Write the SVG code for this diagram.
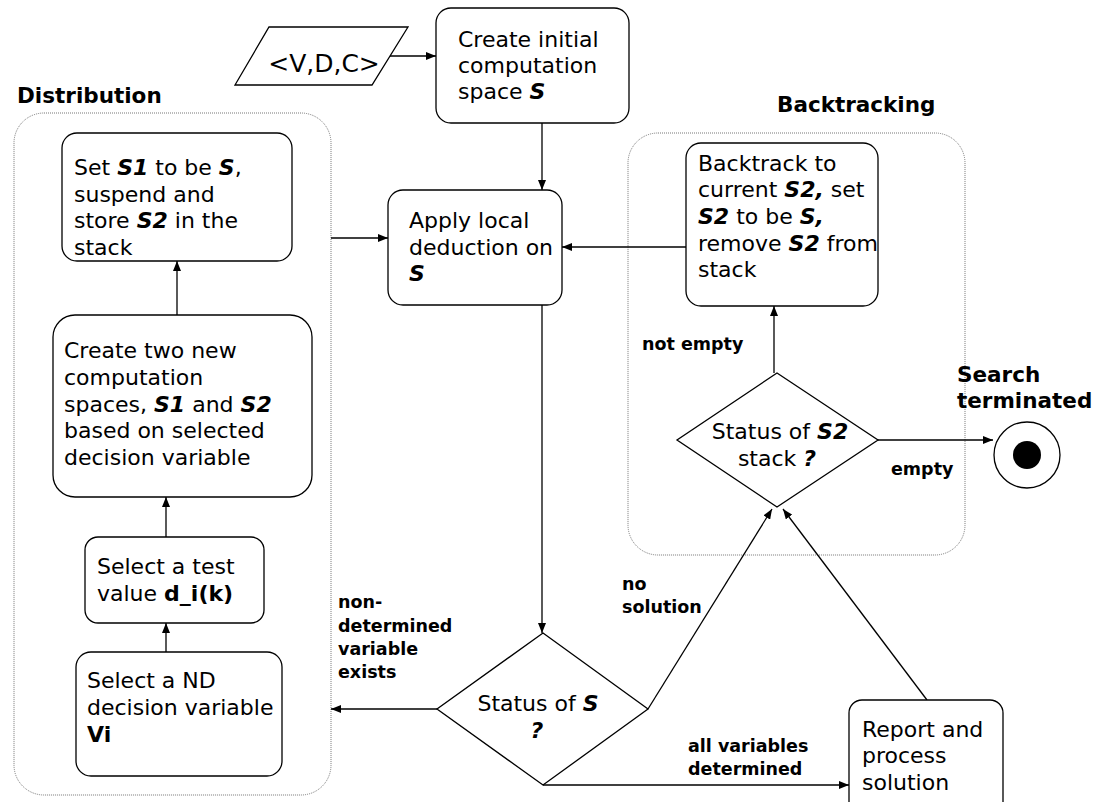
<svg xmlns="http://www.w3.org/2000/svg" width="1098" height="802" viewBox="0 0 1098 802">
  <style>
    .box { fill: #ffffff; stroke: #000000; stroke-width: 1.3; }
    .group { fill: none; stroke: #777777; stroke-width: 1; stroke-dasharray: 1 1; }
    .t { font-family: "DejaVu Sans", Verdana, sans-serif; font-size: 22px; fill: #000000; }
    .b { font-weight: bold; font-style: italic; }
    .bn { font-weight: bold; }
    .lbl { font-family: "DejaVu Sans", Verdana, sans-serif; font-size: 17.5px; font-weight: bold; fill: #000000; }
    .title { font-family: "DejaVu Sans", Verdana, sans-serif; font-size: 21.5px; font-weight: bold; fill: #000000; }
    .edge { fill: none; stroke: #000000; stroke-width: 1.3; }
  </style>
  <defs>
    <marker id="arrow" markerWidth="10" markerHeight="8" refX="10" refY="4" orient="auto" markerUnits="userSpaceOnUse">
      <path d="M0,0 L10,4 L0,8 Z" fill="#000000"/>
    </marker>
  </defs>

  <rect width="1098" height="802" fill="#ffffff"/>

  <!-- Swimlane-style groupings -->
  <g id="distribution">
    <rect class="group" x="14" y="113" width="317" height="682" rx="30"/>
    <text class="title" x="17" y="103">Distribution</text>
  </g>
  <g id="backtracking">
    <rect class="group" x="628" y="133" width="337" height="422" rx="30"/>
    <text class="title" x="777" y="112">Backtracking</text>
  </g>

  <!-- Connectors -->
  <g id="connectors">
    <line class="edge" x1="390" y1="56" x2="436" y2="56" marker-end="url(#arrow)"/>
    <line class="edge" x1="542" y1="123" x2="542" y2="190" marker-end="url(#arrow)"/>
    <line class="edge" x1="331" y1="238" x2="388" y2="238" marker-end="url(#arrow)"/>
    <line class="edge" x1="686" y1="247" x2="562" y2="247" marker-end="url(#arrow)"/>
    <line class="edge" x1="542" y1="305" x2="542" y2="633" marker-end="url(#arrow)"/>
    <line class="edge" x1="177" y1="315" x2="177" y2="261" marker-end="url(#arrow)"/>
    <line class="edge" x1="166" y1="537" x2="166" y2="497" marker-end="url(#arrow)"/>
    <line class="edge" x1="166" y1="652" x2="166" y2="623" marker-end="url(#arrow)"/>
    <line class="edge" x1="437" y1="709" x2="331" y2="709" marker-end="url(#arrow)"/>
    <line class="edge" x1="648" y1="709" x2="772" y2="509" marker-end="url(#arrow)"/>
    <line class="edge" x1="543" y1="785" x2="849" y2="785" marker-end="url(#arrow)"/>
    <line class="edge" x1="927" y1="700" x2="783" y2="509" marker-end="url(#arrow)"/>
    <line class="edge" x1="774" y1="373" x2="774" y2="306" marker-end="url(#arrow)"/>
    <line class="edge" x1="878" y1="440" x2="993" y2="440" marker-end="url(#arrow)"/>
    <text class="lbl" x="338" y="608">non-</text>
    <text class="lbl" x="338" y="632">determined</text>
    <text class="lbl" x="338" y="655">variable</text>
    <text class="lbl" x="338" y="678">exists</text>
    <text class="lbl" x="622" y="590">no</text>
    <text class="lbl" x="622" y="613">solution</text>
    <text class="lbl" x="688" y="752">all variables</text>
    <text class="lbl" x="688" y="775">determined</text>
    <text class="lbl" x="642" y="350">not empty</text>
    <text class="lbl" x="891" y="475">empty</text>
  </g>

  <!-- Nodes -->
  <g id="input">
    <polygon class="box" points="269,27 408,27 372,85 235,85"/>
    <text class="t" x="324" y="72" text-anchor="middle" style="font-size:25px">&lt;V,D,C&gt;</text>
  </g>

  <g id="create-initial">
    <rect class="box" x="436" y="8" width="193" height="115" rx="15"/>
    <text class="t" x="458" y="47">Create initial</text>
    <text class="t" x="458" y="73">computation</text>
    <text class="t" x="458" y="99">space <tspan class="b">S</tspan></text>
  </g>

  <g id="apply-deduction">
    <rect class="box" x="388" y="190" width="174" height="115" rx="15"/>
    <text class="t" x="409" y="228">Apply local</text>
    <text class="t" x="409" y="255">deduction on</text>
    <text class="t" x="409" y="281"><tspan class="b">S</tspan></text>
  </g>

  <g id="set-s1">
    <rect class="box" x="62" y="133" width="230" height="128" rx="15"/>
    <text class="t" x="74" y="175">Set <tspan class="b">S1</tspan> to be <tspan class="b">S</tspan>,</text>
    <text class="t" x="74" y="202">suspend and</text>
    <text class="t" x="74" y="228">store <tspan class="b">S2</tspan> in the</text>
    <text class="t" x="74" y="255">stack</text>
  </g>

  <g id="create-two">
    <rect class="box" x="53" y="315" width="259" height="182" rx="22"/>
    <text class="t" x="64" y="358">Create two new</text>
    <text class="t" x="64" y="385">computation</text>
    <text class="t" x="64" y="412">spaces, <tspan class="b">S1</tspan> and <tspan class="b">S2</tspan></text>
    <text class="t" x="64" y="438">based on selected</text>
    <text class="t" x="64" y="465">decision variable</text>
  </g>

  <g id="select-value">
    <rect class="box" x="85" y="537" width="179" height="86" rx="13"/>
    <text class="t" x="97" y="574">Select a test</text>
    <text class="t" x="97" y="601">value <tspan class="bn">d_i(k)</tspan></text>
  </g>

  <g id="select-variable">
    <rect class="box" x="76" y="652" width="206" height="124" rx="15"/>
    <text class="t" x="87" y="688">Select a ND</text>
    <text class="t" x="87" y="715">decision variable</text>
    <text class="t" x="87" y="742"><tspan class="bn">Vi</tspan></text>
  </g>

  <g id="status-s">
    <polygon class="box" points="543,633 648,709 543,785 437,709"/>
    <text class="t" x="538" y="711" text-anchor="middle">Status of <tspan class="b">S</tspan></text>
    <text class="t" x="537" y="738" text-anchor="middle"><tspan class="b">?</tspan></text>
  </g>

  <g id="backtrack">
    <rect class="box" x="686" y="143" width="192" height="163" rx="15"/>
    <text class="t" x="698" y="171">Backtrack to</text>
    <text class="t" x="698" y="197">current <tspan class="b">S2,</tspan> set</text>
    <text class="t" x="698" y="224"><tspan class="b">S2</tspan> to be <tspan class="b">S,</tspan></text>
    <text class="t" x="698" y="251">remove <tspan class="b">S2</tspan> from</text>
    <text class="t" x="698" y="277">stack</text>
  </g>

  <g id="status-s2">
    <polygon class="box" points="777,373 878,440 777,507 677,440"/>
    <text class="t" x="780" y="439" text-anchor="middle">Status of <tspan class="b">S2</tspan></text>
    <text class="t" x="777" y="466" text-anchor="middle">stack <tspan class="b">?</tspan></text>
  </g>

  <g id="report">
    <rect class="box" x="849" y="700" width="154" height="115" rx="13"/>
    <text class="t" x="862" y="737">Report and</text>
    <text class="t" x="862" y="763">process</text>
    <text class="t" x="862" y="790">solution</text>
  </g>

  <g id="terminated">
    <circle cx="1027" cy="455" r="33" fill="#ffffff" stroke="#000000" stroke-width="1.3"/>
    <circle cx="1027" cy="455" r="14" fill="#000000"/>
    <text class="title" x="957" y="382">Search</text>
    <text class="title" x="957" y="408">terminated</text>
  </g>
</svg>
